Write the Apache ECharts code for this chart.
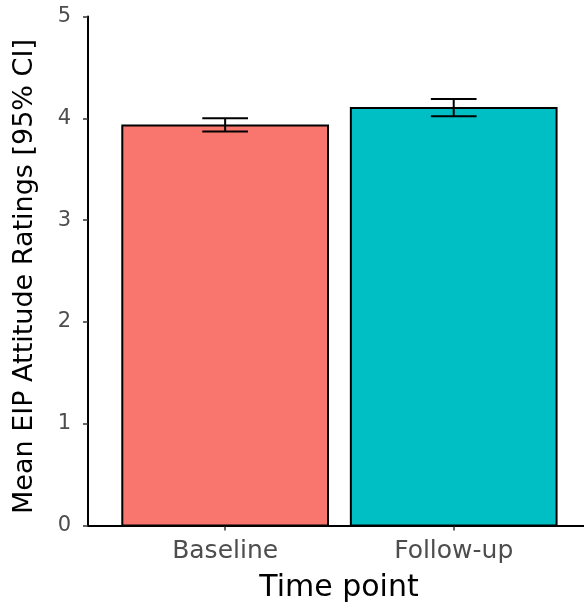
<!DOCTYPE html>
<html>
<head>
<meta charset="utf-8">
<script src="https://cdn.jsdelivr.net/npm/echarts@6/dist/echarts.min.js"></script>
<style>
html,body{margin:0;padding:0;background:#fff}
#main{width:584px;height:603px}
</style>
</head>
<body>
<div id="main"></div>
<script>
// data
var categories = ['Baseline', 'Follow-up']
var means = [3.93, 4.10]
var ciLow = [3.87, 4.02]
var ciHigh = [4.00, 4.19]
var colors = ['#F8766D', '#00BFC4']
var yTicks = [0, 1, 2, 3, 4, 5]

var barData = []
var errData = []
for (var i = 0; i < categories.length; i++) {
	barData.push([i + 1, means[i]])
	errData.push([i + 1, ciLow[i], ciHigh[i]])
}

var chart = echarts.init(document.getElementById('main'))
var font = 'DejaVu Sans'

option = {
	animation: false,
	grid: { left: 88, right: 0, top: 16.5, bottom: 77.5, outerBoundsMode: 'none', containLabel: false },
	xAxis: {
		type: 'value',
		min: 0.4,
		max: 2.57,
		name: 'Time point',
		nameLocation: 'middle',
		nameGap: 48,
		nameTextStyle: { fontFamily: font, fontSize: 30, color: '#000', padding: [0, 0, 0, 6] },
		splitLine: { show: false },
		axisLine: { show: true, onZero: false, lineStyle: { color: '#000', width: 2 } },
		axisTick: { show: true, customValues: [1, 2], length: 5, lineStyle: { color: '#333', width: 1.5 } },
		axisLabel: {
			customValues: [1, 2],
			margin: 13,
			fontFamily: font,
			fontSize: 25,
			color: '#4D4D4D',
			formatter: function (v) { return categories[Math.round(v) - 1] || '' }
		}
	},
	yAxis: {
		type: 'value',
		min: 0,
		max: 5,
		interval: 1,
		name: 'Mean EIP Attitude Ratings [95% CI]',
		nameLocation: 'middle',
		nameGap: 50,
		nameTextStyle: { fontFamily: font, fontSize: 27, color: '#000', padding: [0, 11, 0, 0] },
		splitLine: { show: false },
		axisLine: { show: true, lineStyle: { color: '#000', width: 2 } },
		axisTick: { show: true, length: 5, lineStyle: { color: '#333', width: 1.5 } },
		axisLabel: {
			margin: 17,
			fontFamily: font,
			fontSize: 21,
			color: '#4D4D4D',
			formatter: function (v) { return yTicks.indexOf(v) >= 0 ? String(v) : '' }
		}
	},
	series: [
		{
			type: 'custom',
			data: barData,
			renderItem: function (params, api) {
				var x = api.value(0)
				var tl = api.coord([x - 0.45, api.value(1)])
				var br = api.coord([x + 0.45, 0])
				return {
					type: 'rect',
					shape: { x: tl[0], y: tl[1], width: br[0] - tl[0], height: br[1] - tl[1] },
					style: { fill: colors[params.dataIndex], stroke: '#000', lineWidth: 2 }
				}
			}
		},
		{
			type: 'custom',
			data: errData,
			renderItem: function (params, api) {
				var x = api.value(0)
				var lo = api.coord([x, api.value(1)])
				var hi = api.coord([x, api.value(2)])
				var w = api.size([0.1, 0])[0]
				var st = { stroke: '#000', lineWidth: 2 }
				return {
					type: 'group',
					children: [
						{ type: 'line', shape: { x1: lo[0], y1: lo[1], x2: hi[0], y2: hi[1] }, style: st },
						{ type: 'line', shape: { x1: lo[0] - w, y1: lo[1], x2: lo[0] + w, y2: lo[1] }, style: st },
						{ type: 'line', shape: { x1: hi[0] - w, y1: hi[1], x2: hi[0] + w, y2: hi[1] }, style: st }
					]
				}
			}
		}
	]
}
chart.setOption(option)
</script>
</body>
</html>
